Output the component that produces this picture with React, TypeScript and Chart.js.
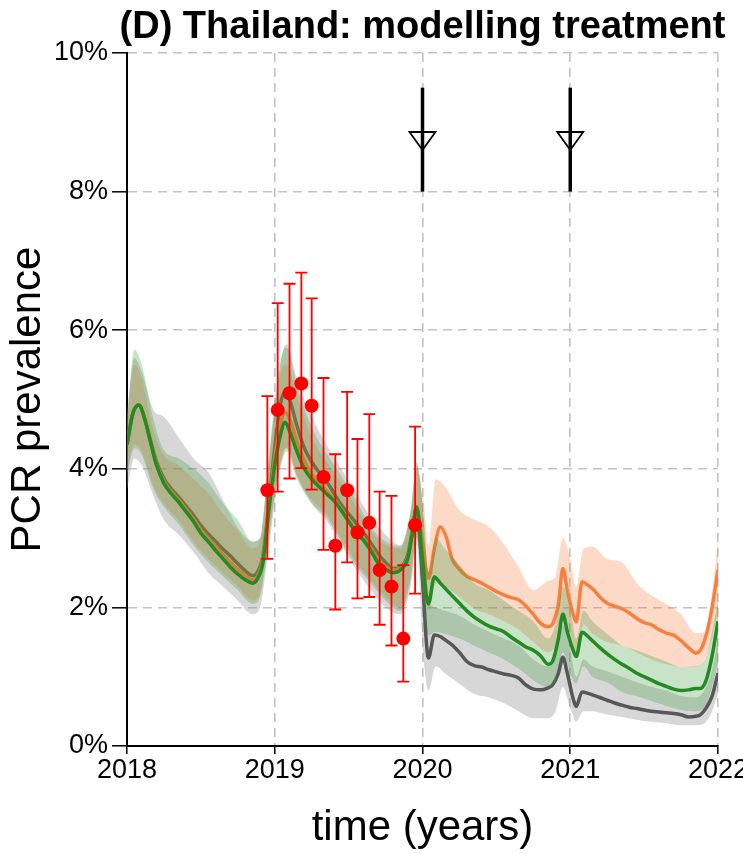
import React, { useEffect, useRef } from 'react';
import { Chart, registerables } from 'chart.js';

Chart.register(...registerables);

const FONT = "'Liberation Sans', Arial, Helvetica, sans-serif";

// ---------- model lines (time in decimal years, value in %) ----------
const lineTimes = [
  2018.00, 2018.04, 2018.08, 2018.12, 2018.16, 2018.20, 2018.25, 2018.30, 2018.35, 2018.40, 2018.45, 2018.50, 2018.55, 2018.60, 2018.65, 2018.70, 2018.75, 2018.80, 2018.85, 2018.88, 2018.92, 2018.96,
  2019.00, 2019.04, 2019.07, 2019.10, 2019.15, 2019.20, 2019.25, 2019.30, 2019.35, 2019.40, 2019.45, 2019.50, 2019.55, 2019.60, 2019.65, 2019.70, 2019.75, 2019.80, 2019.85, 2019.90, 2019.93, 2019.96,
  2020.00, 2020.04, 2020.08, 2020.12, 2020.16, 2020.20, 2020.25, 2020.30, 2020.35, 2020.40, 2020.45, 2020.50, 2020.55, 2020.60, 2020.65, 2020.70, 2020.75, 2020.80, 2020.85, 2020.88, 2020.92, 2020.95, 2020.98,
  2021.02, 2021.04, 2021.08, 2021.12, 2021.16, 2021.20, 2021.25, 2021.30, 2021.35, 2021.40, 2021.45, 2021.50, 2021.55, 2021.60, 2021.65, 2021.70, 2021.75, 2021.80, 2021.85, 2021.88, 2021.92, 2021.96,
  2022.00,
];

const greenLine = [
  4.35, 4.80, 4.92, 4.72, 4.38, 4.05, 3.79, 3.64, 3.52, 3.38, 3.24, 3.07, 2.95, 2.82, 2.70, 2.58, 2.48, 2.40, 2.35, 2.40, 2.65, 3.40,
  4.05, 4.50, 4.67, 4.55, 4.25, 4.00, 3.85, 3.74, 3.64, 3.54, 3.40, 3.24, 3.08, 2.97, 2.82, 2.64, 2.55, 2.50, 2.54, 2.70, 3.05, 3.45,
  2.70, 2.05, 2.44, 2.35, 2.26, 2.17, 2.06, 1.95, 1.86, 1.79, 1.73, 1.69, 1.65, 1.57, 1.50, 1.43, 1.38, 1.30, 1.18, 1.22, 1.55, 1.90, 1.65,
  1.38, 1.29, 1.64, 1.58, 1.50, 1.42, 1.33, 1.25, 1.18, 1.12, 1.05, 1.00, 0.95, 0.90, 0.86, 0.82, 0.80, 0.81, 0.83, 0.83, 0.95, 1.30,
  1.80,
];

const greyLine = [
  4.35, 4.80, 4.92, 4.72, 4.40, 4.10, 3.86, 3.71, 3.59, 3.46, 3.33, 3.18, 3.06, 2.95, 2.84, 2.74, 2.63, 2.53, 2.46, 2.50, 2.75, 3.50,
  4.30, 4.95, 5.10, 5.00, 4.62, 4.30, 4.10, 3.95, 3.82, 3.65, 3.48, 3.35, 3.22, 3.08, 2.93, 2.77, 2.65, 2.56, 2.58, 2.76, 3.10, 3.45,
  2.40, 1.27, 1.60, 1.58, 1.52, 1.46, 1.35, 1.22, 1.16, 1.14, 1.10, 1.07, 1.04, 1.02, 0.98, 0.88, 0.82, 0.81, 0.84, 0.88, 1.05, 1.28, 1.05,
  0.68, 0.57, 0.78, 0.76, 0.73, 0.70, 0.66, 0.62, 0.59, 0.56, 0.54, 0.52, 0.50, 0.49, 0.48, 0.47, 0.45, 0.42, 0.43, 0.45, 0.55, 0.72,
  1.05,
];

const orangeLine = [
  4.35, 4.80, 4.92, 4.72, 4.39, 4.07, 3.82, 3.67, 3.55, 3.42, 3.28, 3.12, 3.00, 2.88, 2.76, 2.65, 2.55, 2.46, 2.40, 2.44, 2.70, 3.45,
  4.15, 4.65, 4.82, 4.72, 4.40, 4.12, 3.92, 3.80, 3.68, 3.57, 3.42, 3.26, 3.12, 3.00, 2.86, 2.70, 2.59, 2.54, 2.56, 2.72, 3.07, 3.45,
  2.95, 2.42, 2.85, 3.16, 3.02, 2.70, 2.55, 2.45, 2.40, 2.35, 2.29, 2.23, 2.18, 2.14, 2.11, 2.02, 1.90, 1.77, 1.72, 1.76, 2.05, 2.56, 2.25,
  1.90, 1.79, 2.37, 2.32, 2.25, 2.15, 2.06, 2.02, 1.98, 1.92, 1.84, 1.78, 1.75, 1.68, 1.63, 1.60, 1.52, 1.42, 1.34, 1.38, 1.60, 2.00,
  2.54,
];

// ---------- credible-interval bands ----------
const bandTimes = [
  2018.00, 2018.05, 2018.10, 2018.18, 2018.25, 2018.35, 2018.45, 2018.55, 2018.65, 2018.75, 2018.85, 2018.90, 2018.95,
  2019.00, 2019.05, 2019.08, 2019.15, 2019.25, 2019.35, 2019.45, 2019.55, 2019.65, 2019.75, 2019.85, 2019.92, 2019.96,
  2020.01, 2020.04, 2020.09, 2020.15, 2020.25, 2020.35, 2020.45, 2020.55, 2020.65, 2020.75, 2020.85, 2020.90, 2020.95,
  2021.00, 2021.04, 2021.09, 2021.15, 2021.25, 2021.35, 2021.45, 2021.55, 2021.65, 2021.75, 2021.85, 2021.92, 2021.96,
  2022.00,
];

const greyLow = [
  3.70, 4.15, 4.05, 3.60, 3.26, 3.05, 2.80, 2.50, 2.30, 2.10, 1.90, 2.00, 2.70,
  3.50, 4.20, 4.30, 3.90, 3.50, 3.25, 2.90, 2.55, 2.25, 2.00, 1.90, 2.30, 2.90,
  1.20, 0.80, 1.15, 1.05, 0.90, 0.75, 0.70, 0.62, 0.50, 0.40, 0.40, 0.50, 0.85,
  0.55, 0.35, 0.50, 0.50, 0.45, 0.42, 0.38, 0.35, 0.33, 0.30, 0.30, 0.35, 0.50,
  0.75,
];
const greyHigh = [
  4.80, 5.60, 5.40, 4.85, 4.75, 4.45, 4.15, 3.95, 3.55, 3.15, 2.95, 3.00, 3.90,
  4.90, 5.65, 5.80, 5.30, 4.75, 4.35, 4.00, 3.65, 3.30, 3.05, 2.90, 3.40, 4.10,
  3.20, 2.10, 2.00, 1.95, 1.88, 1.75, 1.65, 1.55, 1.45, 1.25, 1.15, 1.30, 1.75,
  1.40, 1.00, 1.25, 1.15, 1.08, 1.00, 0.92, 0.85, 0.80, 0.72, 0.70, 0.85, 1.10,
  1.55,
];

const greenLow = [
  3.90, 4.30, 4.20, 3.70, 3.45, 3.20, 2.90, 2.65, 2.45, 2.25, 2.05, 2.15, 2.80,
  3.60, 4.10, 4.25, 3.85, 3.50, 3.30, 2.95, 2.60, 2.35, 2.10, 1.95, 2.40, 3.00,
  1.90, 1.60, 1.65, 1.62, 1.55, 1.45, 1.35, 1.25, 1.12, 0.95, 0.85, 0.95, 1.35,
  1.05, 0.90, 1.15, 1.00, 0.92, 0.78, 0.72, 0.65, 0.58, 0.52, 0.50, 0.60, 0.85,
  1.20,
];
const greenHigh = [
  4.70, 5.72, 5.50, 4.70, 4.27, 4.15, 4.00, 3.80, 3.50, 3.26, 2.95, 3.00, 3.95,
  5.00, 5.65, 5.75, 5.20, 4.60, 4.22, 3.90, 3.55, 3.16, 2.95, 2.88, 3.40, 4.05,
  3.30, 2.50, 3.00, 2.85, 2.62, 2.35, 2.25, 2.10, 1.95, 1.80, 1.55, 1.75, 2.30,
  2.00, 1.55, 1.95, 1.80, 1.62, 1.45, 1.38, 1.30, 1.22, 1.14, 1.15, 1.30, 1.65,
  2.10,
];

const orangeLow = [
  3.95, 4.35, 4.25, 3.75, 3.50, 3.25, 2.95, 2.70, 2.50, 2.30, 2.10, 2.20, 2.85,
  3.65, 4.15, 4.30, 3.90, 3.55, 3.35, 3.00, 2.65, 2.40, 2.15, 2.00, 2.45, 3.00,
  2.20, 1.95, 2.35, 2.30, 2.15, 1.98, 1.90, 1.80, 1.68, 1.50, 1.35, 1.45, 1.80,
  1.60, 1.35, 1.75, 1.62, 1.50, 1.45, 1.35, 1.25, 1.18, 1.14, 1.14, 1.30, 1.55,
  1.90,
];
const orangeHigh = [
  4.65, 5.50, 5.30, 4.55, 4.20, 4.05, 3.85, 3.65, 3.35, 3.10, 2.85, 2.95, 3.85,
  4.85, 5.45, 5.50, 5.05, 4.45, 4.10, 3.80, 3.45, 3.10, 2.90, 2.85, 3.35, 4.00,
  3.50, 2.90, 3.85, 3.75, 3.40, 3.27, 3.16, 2.92, 2.58, 2.25, 2.38, 2.45, 3.00,
  2.70, 2.30, 2.85, 2.88, 2.70, 2.65, 2.35, 2.17, 2.05, 1.90, 1.63, 1.65, 2.20,
  2.97,
];

// ---------- observed PCR prevalence (red) ----------
const obsTimes = [2018.95, 2019.02, 2019.10, 2019.18, 2019.25, 2019.33, 2019.41, 2019.49, 2019.56, 2019.64, 2019.71, 2019.79, 2019.87, 2019.95];
const obsValues = [3.69, 4.85, 5.09, 5.23, 4.91, 3.88, 2.89, 3.69, 3.08, 3.22, 2.54, 2.30, 1.55, 3.19];
const obsLower = [2.70, 3.67, 3.86, 4.01, 3.70, 2.83, 1.97, 2.65, 2.13, 2.15, 1.75, 1.45, 0.93, 2.20];
const obsUpper = [5.05, 6.39, 6.67, 6.83, 6.46, 5.31, 4.21, 5.11, 4.43, 4.79, 3.67, 3.61, 2.61, 4.61];

// ---------- treatment arrows ----------
const arrowYears = [2020, 2021];
const arrowSpan = [8, 9.5];
const arrowHeadSpan = [8.6, 8.86];

// ---------- text ----------
const xTickLabels = ['2018', '2019', '2020', '2021', '2022'];
const yTickLabels = ['0%', '2%', '4%', '6%', '8%', '10%'];
const titleText = '(D) Thailand: modelling treatment';
const xAxisTitle = 'time (years)';
const yAxisTitle = 'PCR prevalence';

const toPoints = (xs: number[], ys: number[]) => xs.map((x, i) => ({ x, y: ys[i] }));

export default function App() {
  const ref = useRef<HTMLCanvasElement>(null);

  useEffect(() => {
    const canvas = ref.current;
    if (!canvas) return;

    const errorBars = {
      id: 'errorBars',
      beforeDatasetDraw(chart: any, args: any) {
        if (args.index !== 0) return;
        const { ctx, scales } = chart;
        const x = scales.x;
        const y = scales.y;
        ctx.save();
        ctx.strokeStyle = '#ff0000';
        ctx.lineWidth = 1.8;
        ctx.setLineDash([]);
        obsTimes.forEach((t, i) => {
          const px = x.getPixelForValue(t);
          const lo = y.getPixelForValue(obsLower[i]);
          const hi = y.getPixelForValue(obsUpper[i]);
          ctx.beginPath();
          ctx.moveTo(px, lo);
          ctx.lineTo(px, hi);
          ctx.moveTo(px - 6, lo);
          ctx.lineTo(px + 6, lo);
          ctx.moveTo(px - 6, hi);
          ctx.lineTo(px + 6, hi);
          ctx.stroke();
        });
        ctx.restore();
      },
    };

    const arrows = {
      id: 'arrows',
      afterDatasetsDraw(chart: any) {
        const { ctx, scales } = chart;
        const x = scales.x;
        const y = scales.y;
        ctx.save();
        ctx.setLineDash([]);
        arrowYears.forEach((yr) => {
          const px = x.getPixelForValue(yr);
          const top = y.getPixelForValue(arrowSpan[1]);
          const bot = y.getPixelForValue(arrowSpan[0]);
          ctx.strokeStyle = '#000';
          ctx.lineWidth = 3.5;
          ctx.beginPath();
          ctx.moveTo(px, top);
          ctx.lineTo(px, bot);
          ctx.stroke();
          const hTop = y.getPixelForValue(arrowHeadSpan[1]);
          const hTip = y.getPixelForValue(arrowHeadSpan[0]);
          ctx.lineWidth = 1.8;
          ctx.beginPath();
          ctx.moveTo(px - 13, hTop);
          ctx.lineTo(px + 13, hTop);
          ctx.lineTo(px, hTip);
          ctx.closePath();
          ctx.stroke();
        });
        ctx.restore();
      },
    };

    const titlePlugin = {
      id: 'mainTitle',
      afterDraw(chart: any) {
        const { ctx, chartArea } = chart;
        ctx.save();
        ctx.fillStyle = '#000';
        ctx.font = `bold 38px ${FONT}`;
        ctx.textAlign = 'center';
        ctx.textBaseline = 'middle';
        ctx.fillText(titleText, (chartArea.left + chartArea.right) / 2, 28);
        ctx.restore();
      },
    };

    const band = (ys: number[], color: string, order: number, fill: any) => ({
      data: toPoints(bandTimes, ys),
      borderWidth: 0,
      borderColor: 'rgba(0,0,0,0)',
      backgroundColor: color,
      pointRadius: 0,
      cubicInterpolationMode: 'monotone',
      fill,
      order,
    });

    const line = (ys: number[], color: string, order: number) => ({
      data: toPoints(lineTimes, ys),
      borderWidth: 3.5,
      borderColor: color,
      pointRadius: 0,
      cubicInterpolationMode: 'monotone',
      fill: false,
      order,
    });

    const GREY_BAND = 'rgba(150,150,150,0.38)';
    const GREEN_BAND = 'rgba(50,150,50,0.27)';
    const ORANGE_BAND = 'rgba(248,128,72,0.30)';

    const chart = new Chart(canvas, {
      type: 'line',
      data: {
        datasets: [
          {
            data: toPoints(obsTimes, obsValues),
            showLine: false,
            pointRadius: 7,
            pointHoverRadius: 7,
            pointBackgroundColor: '#ff0000',
            pointBorderWidth: 0,
            borderColor: '#ff0000',
            order: 0,
          } as any,
          line(greenLine, '#238b22', 1),
          band(greenHigh, GREEN_BAND, 2, '+1'),
          band(greenLow, 'rgba(0,0,0,0)', 3, false),
          line(orangeLine, '#f8803f', 4),
          band(orangeHigh, ORANGE_BAND, 5, '+1'),
          band(orangeLow, 'rgba(0,0,0,0)', 6, false),
          line(greyLine, '#575757', 7),
          band(greyHigh, GREY_BAND, 8, '+1'),
          band(greyLow, 'rgba(0,0,0,0)', 9, false),
        ] as any,
      },
      options: {
        responsive: false,
        animation: false,
        events: [],
        layout: { padding: { top: 53, right: 25, left: 0, bottom: 0 } },
        plugins: {
          legend: { display: false },
          tooltip: { enabled: false },
          title: { display: false },
        },
        scales: {
          x: {
            type: 'linear',
            min: 2018,
            max: 2022,
            ticks: {
              stepSize: 1,
              autoSkip: false,
              maxRotation: 0,
              minRotation: 0,
              padding: 0,
              color: '#000',
              font: { family: FONT, size: 27 },
              callback: (_v: any, i: number) => xTickLabels[i] ?? '',
            },
            grid: {
              color: '#c2c2c2',
              lineWidth: 1.6,
              tickLength: 8,
              tickColor: '#000',
              tickWidth: 1.5,
              tickBorderDash: [],
              drawTicks: true,
            },
            border: { display: true, color: '#000', width: 2, dash: [9, 6] },
            title: {
              display: true,
              text: xAxisTitle,
              color: '#000',
              font: { family: FONT, size: 42 },
              padding: { top: 0, bottom: 0 },
            },
            afterFit: (s: any) => {
              s.height = 108;
              s.paddingLeft = 0;
              s.paddingRight = 0;
            },
          },
          y: {
            type: 'linear',
            min: 0,
            max: 10,
            ticks: {
              stepSize: 2,
              padding: 4,
              color: '#000',
              font: { family: FONT, size: 27 },
              callback: (_v: any, i: number) => yTickLabels[i] ?? '',
            },
            grid: {
              color: '#c2c2c2',
              lineWidth: 1.6,
              tickLength: 15,
              tickColor: '#000',
              tickWidth: 1.5,
              tickBorderDash: [],
              drawTicks: true,
            },
            border: { display: true, color: '#000', width: 2, dash: [9, 6] },
            title: {
              display: true,
              text: yAxisTitle,
              color: '#000',
              font: { family: FONT, size: 42 },
              padding: { top: 3, bottom: 0 },
            },
            afterFit: (s: any) => {
              s.width = 127;
              s.paddingTop = 0;
              s.paddingBottom = 0;
            },
          },
        },
      } as any,
      plugins: [errorBars, arrows, titlePlugin],
    });

    return () => chart.destroy();
  }, []);

  return (
    <div style={{ position: 'fixed', left: 0, top: 0, width: 743, height: 854, background: '#fff' }}>
      <canvas ref={ref} width={743} height={854} style={{ display: 'block', width: 743, height: 854 }} />
    </div>
  );
}
